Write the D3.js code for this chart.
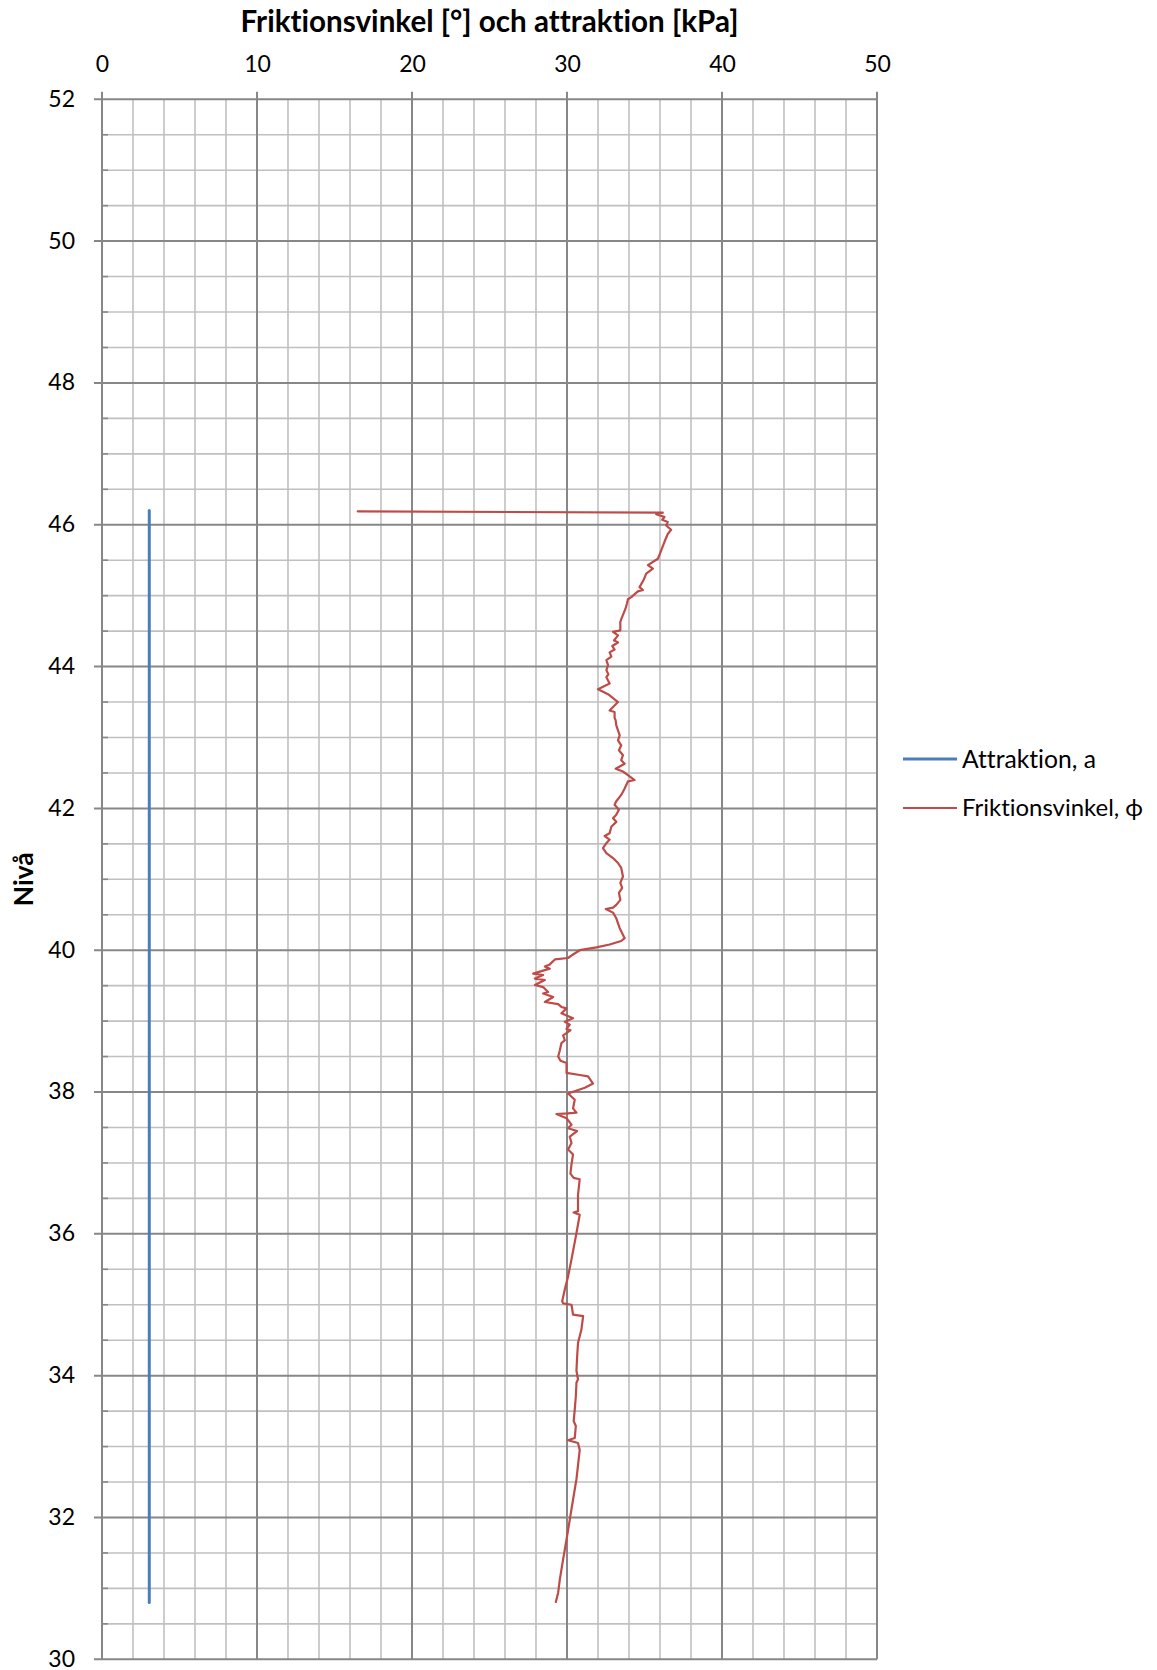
<!DOCTYPE html>
<html>
<head>
<meta charset="utf-8">
<script src="https://cdn.jsdelivr.net/npm/d3@7"></script>
<style>
  html, body { margin: 0; padding: 0; background: #ffffff; }
  svg { display: block; }
  text { font-family: Lato, "Open Sans", "DejaVu Sans", sans-serif; fill: #000;
         font-variant-ligatures: none; font-feature-settings: "liga" 0, "clig" 0; }
</style>
</head>
<body>
<svg id="chart" width="1157" height="1670"></svg>
<script>
// Sounding profile: level (Nivå) versus friction angle and attraction
const nivaPhi = [
  46.19, 46.17, 46.15, 46.11, 46.07, 46.04, 45.99, 45.93, 45.87, 45.76, 45.64, 45.52,
  45.43, 45.38, 45.31, 45.22, 45.12, 45.08, 45.06, 44.98, 44.95, 44.89, 44.82, 44.75,
  44.68, 44.63, 44.51, 44.49, 44.44, 44.37, 44.34, 44.29, 44.24, 44.20, 44.14, 44.09,
  44.02, 43.95, 43.89, 43.85, 43.76, 43.68, 43.61, 43.50, 43.38, 43.36, 43.28, 43.24,
  43.17, 43.03, 42.96, 42.89, 42.82, 42.75, 42.68, 42.63, 42.56, 42.52, 42.47, 42.40,
  42.38, 42.28, 42.19, 42.10, 42.05, 41.98, 41.91, 41.86, 41.81, 41.74, 41.65, 41.61,
  41.56, 41.51, 41.44, 41.37, 41.30, 41.23, 41.16, 41.04, 40.95, 40.88, 40.81, 40.71,
  40.64, 40.60, 40.58, 40.53, 40.45, 40.31, 40.24, 40.17, 40.13, 40.08, 40.04, 40.00,
  39.94, 39.89, 39.87, 39.80, 39.77, 39.74, 39.67, 39.65, 39.60, 39.58, 39.51, 39.48,
  39.41, 39.39, 39.34, 39.27, 39.24, 39.20, 39.18, 39.11, 39.04, 38.99, 38.95, 38.89,
  38.87, 38.80, 38.73, 38.69, 38.59, 38.50, 38.44, 38.41, 38.27, 38.24, 38.22, 38.12,
  38.06, 37.98, 37.89, 37.77, 37.71, 37.70, 37.69, 37.63, 37.54, 37.49, 37.45, 37.37,
  37.28, 37.19, 37.12, 36.98, 36.85, 36.79, 36.77, 36.55, 36.32, 36.30, 36.27, 36.01,
  35.64, 35.40, 35.22, 35.05, 35.02, 35.00, 34.86, 34.84, 34.65, 34.46, 34.25, 34.07,
  33.95, 33.90, 33.71, 33.52, 33.36, 33.29, 33.12, 33.09, 33.05, 32.95, 32.54, 32.25,
  31.97, 31.69, 31.41, 31.13, 30.94, 30.81
];
const friktionsvinkel = [
  16.5, 36.18, 35.75, 36.29, 36.14, 36.50, 36.40, 36.72, 36.50, 36.29, 36.08, 35.86,
  35.22, 35.54, 35.11, 34.94, 34.68, 34.90, 34.57, 34.15, 33.93, 33.87, 33.78, 33.65,
  33.52, 33.44, 33.44, 32.97, 33.29, 33.03, 33.29, 32.92, 33.07, 32.75, 32.86, 32.54,
  32.65, 32.54, 32.67, 32.54, 32.75, 32.00, 32.65, 33.29, 32.75, 33.07, 33.07, 33.14,
  33.18, 33.40, 33.29, 33.50, 33.35, 33.61, 33.50, 33.72, 33.14, 33.61, 33.93, 34.36,
  33.93, 33.72, 33.50, 33.18, 33.07, 33.35, 33.18, 32.97, 33.18, 32.86, 32.75, 32.43,
  32.75, 32.54, 32.32, 32.54, 32.97, 33.29, 33.50, 33.61, 33.44, 33.56, 33.35, 33.44,
  33.18, 32.97, 32.50, 32.97, 33.18, 33.40, 33.56, 33.72, 33.50, 32.75, 31.90, 30.82,
  30.39, 30.07, 29.22, 28.89, 28.57, 28.89, 27.82, 28.46, 27.93, 28.57, 27.93, 28.46,
  28.78, 28.46, 29.11, 28.57, 29.43, 29.64, 29.97, 29.64, 30.39, 29.86, 30.18, 29.97,
  30.22, 29.75, 29.86, 29.64, 29.54, 29.43, 29.58, 29.97, 29.97, 30.82, 31.36, 31.68,
  31.15, 30.07, 30.50, 30.39, 30.61, 30.07, 29.32, 29.97, 30.29, 30.07, 30.65, 30.18,
  30.29, 30.07, 30.39, 30.29, 30.22, 30.43, 30.82, 30.71, 30.71, 30.43, 30.82, 30.61,
  30.29, 30.07, 29.86, 29.69, 29.75, 30.29, 30.39, 31.04, 30.93, 30.71, 30.65, 30.61,
  30.71, 30.61, 30.57, 30.50, 30.43, 30.57, 30.50, 30.07, 30.71, 30.82, 30.61, 30.39,
  30.18, 29.97, 29.75, 29.54, 29.43, 29.28
];
const nivaAttr = [46.2, 30.8];
const attraktion = [3.05, 3.05];

const xTicks = [0, 10, 20, 30, 40, 50];
const yTicks = [30, 32, 34, 36, 38, 40, 42, 44, 46, 48, 50, 52];
const seriesNames = ["Attraktion, a", "Friktionsvinkel, \u03d5"];
const seriesColors = ["#4a7ebb", "#be4b48"];
const titleText = "Friktionsvinkel [\u00b0] och attraktion [kPa]";
const yTitleText = "Niv\u00e5";

const svg = d3.select("#chart");
const x = d3.scaleLinear().domain([0, 50]).range([102, 877]);
const y = d3.scaleLinear().domain([30, 52]).range([1659.3, 99.3]);

const minorColor = "#c0c0c0";
const majorColor = "#878787";

// scale a text's font size so that it spans the given width
function fitWidth(sel, width) {
  const node = sel.node();
  const size = parseFloat(sel.attr("font-size"));
  const w = node.getComputedTextLength();
  if (w > 0) sel.attr("font-size", (size * width / w).toFixed(2));
  return sel;
}

// minor grid
const gMinor = svg.append("g");
gMinor.selectAll("line.vx")
  .data(d3.range(0, 51, 2).filter(v => v % 10 !== 0))
  .join("line")
  .attr("x1", d => x(d)).attr("x2", d => x(d))
  .attr("y1", y(52)).attr("y2", y(30))
  .attr("stroke", minorColor).attr("stroke-width", 1.6);
gMinor.selectAll("line.hy")
  .data(d3.range(30, 52.01, 0.5).filter(v => v % 2 !== 0))
  .join("line")
  .attr("x1", x(0)).attr("x2", x(50))
  .attr("y1", d => y(d)).attr("y2", d => y(d))
  .attr("stroke", minorColor).attr("stroke-width", 1.6);

// minor tick marks on the level axis (inside)
svg.append("g").selectAll("line")
  .data(d3.range(30, 52.01, 0.5).filter(v => v % 2 !== 0))
  .join("line")
  .attr("x1", x(0)).attr("x2", x(0) + 6)
  .attr("y1", d => y(d)).attr("y2", d => y(d))
  .attr("stroke", majorColor).attr("stroke-width", 1.6);

// major grid with outside ticks
const gMajor = svg.append("g");
gMajor.selectAll("line.vx")
  .data(xTicks)
  .join("line")
  .attr("x1", d => x(d)).attr("x2", d => x(d))
  .attr("y1", y(52) - 7.5).attr("y2", y(30))
  .attr("stroke", majorColor).attr("stroke-width", 2);
gMajor.selectAll("line.hy")
  .data(yTicks)
  .join("line")
  .attr("x1", x(0) - 8).attr("x2", x(50))
  .attr("y1", d => y(d)).attr("y2", d => y(d))
  .attr("stroke", majorColor).attr("stroke-width", 2);

// tick labels through D3 axes (domain and tick lines hidden)
const xAxis = svg.append("g")
  .attr("transform", `translate(0,${y(52) - 27})`)
  .call(d3.axisTop(x).tickValues(xTicks).tickSize(0).tickPadding(0).tickFormat(d3.format("d")));
xAxis.select(".domain").remove();
xAxis.selectAll("text")
  .attr("font-family", "Lato, 'Open Sans', sans-serif")
  .attr("font-size", 23).attr("fill", "#000");

const yAxis = svg.append("g")
  .attr("transform", `translate(${x(0) - 27},0)`)
  .call(d3.axisLeft(y).tickValues(yTicks).tickSize(0).tickPadding(0).tickFormat(d3.format("d")));
yAxis.select(".domain").remove();
yAxis.selectAll("text")
  .attr("font-family", "Lato, 'Open Sans', sans-serif")
  .attr("font-size", 23).attr("fill", "#000")
  .attr("dy", "0.3em");

// series
const line = d3.line().x(d => x(d[0])).y(d => y(d[1]));
svg.append("path")
  .datum(attraktion.map((v, i) => [v, nivaAttr[i]]))
  .attr("d", line)
  .attr("fill", "none")
  .attr("stroke", seriesColors[0])
  .attr("stroke-width", 3)
  .attr("stroke-linecap", "round");
svg.append("path")
  .datum(friktionsvinkel.map((v, i) => [v, nivaPhi[i]]))
  .attr("d", line)
  .attr("fill", "none")
  .attr("stroke", seriesColors[1])
  .attr("stroke-width", 2.2)
  .attr("stroke-linejoin", "round")
  .attr("stroke-linecap", "round");

// titles
const title = svg.append("text")
  .attr("x", (x(0) + x(50)) / 2).attr("y", 32)
  .attr("text-anchor", "middle")
  .attr("font-size", 24).attr("font-weight", "bold")
  .text(titleText);
fitWidth(title, 498);

const yTitle = svg.append("text")
  .attr("transform", `translate(33,${(y(30) + y(52)) / 2}) rotate(-90)`)
  .attr("text-anchor", "middle")
  .attr("font-size", 24).attr("font-weight", "bold")
  .text(yTitleText);
fitWidth(yTitle, 54);

// legend
const legend = svg.append("g");
const legendY = [759, 808];
const legendWidths = [3, 2.2];
const legendTextWidths = [134, 181];
seriesNames.forEach((name, i) => {
  legend.append("line")
    .attr("x1", 903).attr("x2", 957)
    .attr("y1", legendY[i]).attr("y2", legendY[i])
    .attr("stroke", seriesColors[i]).attr("stroke-width", legendWidths[i]);
  const t = legend.append("text")
    .attr("x", 962).attr("y", legendY[i])
    .attr("dy", "0.35em")
    .attr("font-size", 24)
    .text(name);
  fitWidth(t, legendTextWidths[i]);
});
</script>
</body>
</html>
